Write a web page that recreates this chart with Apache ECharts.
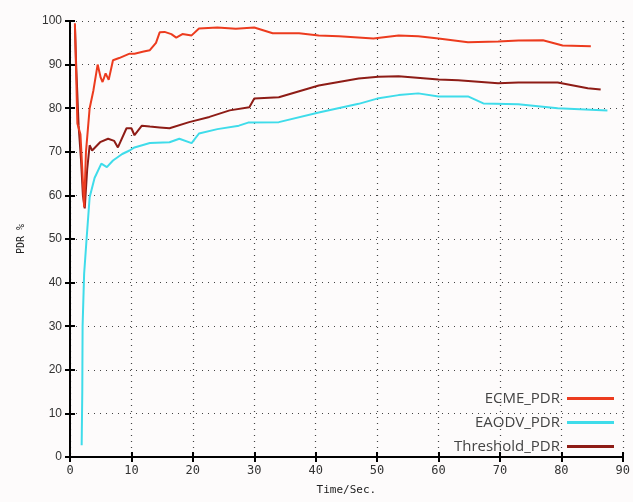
<!DOCTYPE html>
<html>
<head>
<meta charset="utf-8">
<script src="https://cdn.jsdelivr.net/npm/echarts@6/dist/echarts.min.js"></script>
<style>
  html, body { margin: 0; padding: 0; background: #fdfbfb; }
  #chart { width: 633px; height: 502px; }
</style>
</head>
<body>
<div id="chart"></div>
<script>
// 数据
var ecmeX = [0.8, 1.2, 1.7, 2.0, 2.3, 2.6, 3.2, 3.8, 4.5, 5.0, 5.3, 5.8, 6.3, 7.0, 8.0, 9.7, 10.5, 12, 13, 14, 14.6, 15.4, 16.5, 17.3, 18.3, 19.8, 21, 24, 27, 30, 33, 37.3, 40.5, 43.8, 49.4, 53.5, 56.7, 60, 64.8, 69.7, 73, 77, 80.2, 84.8];
var ecmeY = [99.5, 76.5, 74, 66, 57.3, 70, 80, 84, 90, 87, 86, 88, 86.5, 91, 91.5, 92.5, 92.5, 93, 93.3, 95, 97.4, 97.5, 97, 96.2, 97, 96.7, 98.3, 98.5, 98.2, 98.5, 97.2, 97.2, 96.7, 96.5, 96, 96.7, 96.5, 96, 95.1, 95.3, 95.5, 95.6, 94.4, 94.2];

var eaodvX = [1.9, 2.0, 2.05, 2.3, 2.7, 3.2, 4.0, 5.1, 6.0, 7.0, 8.5, 9.7, 10.5, 13, 16.2, 17.8, 19.8, 21, 24, 27.5, 29, 34, 40.5, 47, 50, 53.5, 56.7, 60, 64.8, 67.3, 73, 79.4, 87.5];
var eaodvY = [2.7, 15, 30, 42, 50, 59.6, 64, 67.3, 66.5, 68, 69.5, 70.3, 71, 72, 72.2, 73, 72, 74.2, 75.2, 76, 76.7, 76.8, 79, 81, 82.2, 83, 83.4, 82.7, 82.7, 81.1, 80.9, 80, 79.5];

var threshX = [0.8, 1.0, 1.4, 1.8, 2.1, 2.4, 2.8, 3.2, 3.6, 4.9, 6.2, 7.2, 7.8, 9.2, 10.0, 10.5, 11.7, 13, 14.6, 16.2, 19.4, 22.7, 26, 29.2, 30, 34, 40.5, 47, 50.2, 53.5, 60, 63.2, 69.7, 73, 79.4, 84.3, 86.4];
var threshY = [99, 90, 76, 68, 60, 57, 66, 71.5, 70.3, 72.2, 73, 72.5, 71, 75.4, 75.4, 73.8, 76, 75.8, 75.6, 75.4, 76.8, 78, 79.5, 80.2, 82.2, 82.5, 85.2, 86.8, 87.2, 87.3, 86.6, 86.4, 85.7, 85.9, 85.9, 84.6, 84.3];

var seriesNames = ['ECME_PDR', 'EAODV_PDR', 'Threshold_PDR'];
var seriesColors = ['#ec3b1e', '#3fdcea', '#8e1c16'];

function pairs(xs, ys) {
  var out = [];
  for (var i = 0; i < xs.length; i++) out.push([xs[i], ys[i]]);
  return out;
}

var myChart = echarts.init(document.getElementById('chart'));
var gridLine = { show: true, lineStyle: { color: '#444', type: [1, 5], width: 1.2 } };
var option = {
  backgroundColor: '#fdfbfb',
  animation: false,
  grid: { left: 70, right: 7, top: 21, bottom: 45 },
  legend: {
    orient: 'vertical',
    right: 14,
    top: 386,
    align: 'right',
    itemWidth: 47,
    itemHeight: 3,
    itemGap: 9,
    icon: 'rect',
    data: seriesNames,
    textStyle: { fontFamily: 'Open Sans', fontSize: 15, color: '#444', padding: [0, 2, 0, 0] }
  },
  xAxis: [
    {
      type: 'value', min: 0, max: 90, interval: 10,
      name: 'Time/Sec.', nameLocation: 'middle', nameGap: 28,
      nameTextStyle: { fontFamily: 'DejaVu Sans Mono', fontSize: 11, color: '#222' },
      axisLine: { lineStyle: { color: '#000', width: 2 } },
      axisTick: { inside: true, length: 5, lineStyle: { color: '#000', width: 2 } },
      axisLabel: { fontFamily: 'DejaVu Sans Mono', fontSize: 12, color: '#333', margin: 8 },
      splitLine: gridLine
    },
    {
      type: 'value', position: 'top', min: 0, max: 90, interval: 10,
      axisLine: { lineStyle: { color: '#000', width: 2 } },
      axisTick: { inside: true, length: 5, lineStyle: { color: '#000', width: 2 } },
      axisLabel: { show: false }, splitLine: { show: false }
    }
  ],
  yAxis: [
    {
      type: 'value', min: 0, max: 100, interval: 10,
      name: 'PDR %', nameLocation: 'middle', nameGap: 44,
      nameTextStyle: { fontFamily: 'DejaVu Sans Mono', fontSize: 10, color: '#222' },
      axisLine: { show: true, lineStyle: { color: '#000', width: 2 } },
      axisTick: { show: true, inside: true, length: 5, lineStyle: { color: '#000', width: 2 } },
      axisLabel: { fontFamily: 'Liberation Sans', fontSize: 12, color: '#333', margin: 8 },
      splitLine: gridLine
    },
    {
      type: 'value', position: 'right', min: 0, max: 100, interval: 10,
      axisLine: { show: true, lineStyle: { color: '#000', width: 2 } },
      axisTick: { show: true, inside: true, length: 5, lineStyle: { color: '#000', width: 2 } },
      axisLabel: { show: false }, splitLine: { show: false }
    }
  ],
  series: [
    {
      name: seriesNames[2], type: 'line', data: pairs(threshX, threshY),
      showSymbol: false, lineStyle: { width: 2, color: seriesColors[2] }, itemStyle: { color: seriesColors[2] }, z: 2
    },
    {
      name: seriesNames[1], type: 'line', data: pairs(eaodvX, eaodvY),
      showSymbol: false, lineStyle: { width: 2, color: seriesColors[1] }, itemStyle: { color: seriesColors[1] }, z: 3
    },
    {
      name: seriesNames[0], type: 'line', data: pairs(ecmeX, ecmeY),
      showSymbol: false, lineStyle: { width: 2, color: seriesColors[0] }, itemStyle: { color: seriesColors[0] }, z: 4
    }
  ]
};
myChart.setOption(option);
</script>
</body>
</html>
